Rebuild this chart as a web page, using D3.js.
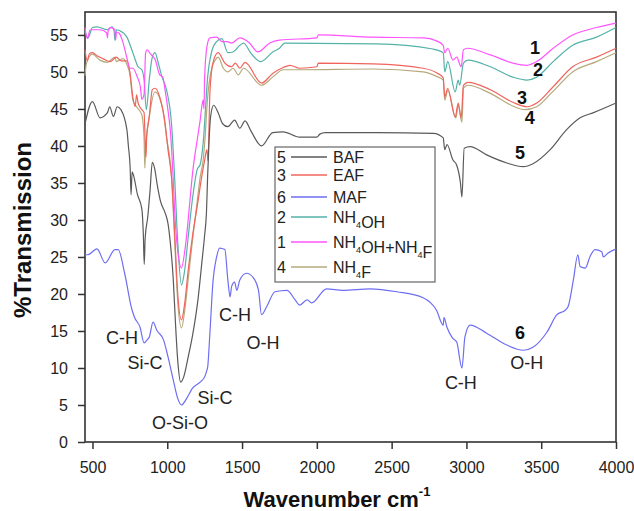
<!DOCTYPE html>
<html>
<head>
<meta charset="utf-8">
<script src="https://cdn.jsdelivr.net/npm/d3@7"></script>
<style>
  body { margin: 0; background: #fff; }
  svg { font-family: "Liberation Sans", Arial, sans-serif; }
</style>
</head>
<body>
<svg id="chart" width="634" height="511"></svg>
<script>
"use strict";

// spectra, [wavenumber, %T]
const baf = [[450,43],[500,46],[550,43.8],[600,44.5],[615,45.3],[640,44],[665,45.3],[690,44.9],[730,42.2],[740,40],[752,37],[758,33.4],[765,36.5],[775,36],[800,33.5],[830,31.5],[840,28],[846,24],[852,27.5],[870,30.5],[885,34],[900,37.8],[915,37],[935,34.5],[955,32.5],[985,31],[1005,29.5],[1020,27],[1040,22],[1055,16],[1070,11],[1090,8.1],[1110,8.8],[1140,11.5],[1170,14.5],[1205,19.2],[1230,24],[1250,28],[1262,31],[1270,36],[1280,41],[1290,44],[1310,45.5],[1340,44.5],[1370,43],[1405,42.6],[1450,43.5],[1485,42.4],[1520,43.4],[1560,42],[1630,40],[1705,41.8],[1775,41.9],[1885,41.2],[2000,41.2],[2020,41.6],[2055,41.8],[2400,41.8],[2780,41.7],[2845,41.1],[2855,39.5],[2870,40.2],[2910,38.1],[2935,37.4],[2960,35],[2970,33.1],[2985,39.7],[3025,39.9],[3135,38.8],[3270,37.7],[3380,37.2],[3445,37.6],[3560,39.5],[3670,42.2],[3760,43.8],[3850,44.5],[4000,45.8]];

const eaf = [[450,53],[465,51.5],[480,52.5],[500,52.6],[530,52.2],[570,51.8],[620,51.4],[660,52],[690,51.5],[730,51.5],[750,50],[770,46.6],[785,45.3],[795,46.9],[805,45.8],[830,44.9],[845,44.5],[852,40.8],[858,38.5],[862,41],[880,44],[900,47.6],[918,47.8],[950,46.6],[985,43.1],[1005,39.5],[1030,35.4],[1050,28],[1070,20],[1095,16.5],[1115,18.5],[1140,23.2],[1170,28],[1200,31.8],[1230,35.8],[1250,38.1],[1265,39.5],[1272,38],[1285,47.2],[1305,51.2],[1340,52.6],[1385,51.2],[1430,50.7],[1455,51.2],[1485,50.5],[1520,51.3],[1630,48.5],[1705,49.8],[1775,50.6],[1820,50.9],[1885,50.5],[2000,50.7],[2010,51.2],[2375,51.1],[2710,50.5],[2800,49.9],[2845,49.2],[2855,46.6],[2875,47.8],[2925,43.9],[2945,45.8],[2965,43.8],[2980,48.2],[3010,48.6],[3160,47.6],[3310,45.9],[3405,45.3],[3470,45.8],[3580,48],[3710,50.7],[3870,52],[4000,53.2]];

const maf = [[450,25.3],[470,25.3],[530,26.1],[585,24.2],[650,26],[672,26],[715,22.8],[765,17.8],[770,17.5],[780,16.9],[818,15.5],[845,13.4],[865,13.8],[880,14.2],[905,16.2],[930,15.1],[975,13.8],[1005,11.5],[1040,8.4],[1070,5.9],[1095,5],[1130,5.9],[1170,7.3],[1220,8.1],[1250,8.8],[1265,9.7],[1270,10.1],[1285,14.7],[1305,21.5],[1330,25],[1350,26.2],[1385,26],[1405,21.9],[1420,19.6],[1430,21],[1450,21.6],[1465,20.5],[1485,21.9],[1530,22.8],[1575,22.2],[1610,20.5],[1630,17.2],[1665,18.3],[1720,20.3],[1800,20.5],[1855,19.2],[1885,18.5],[1935,19.2],[1965,18.8],[2065,20.7],[2175,20.5],[2355,20.7],[2535,20.3],[2710,19.5],[2800,17.8],[2845,15.8],[2850,16.8],[2870,15.5],[2905,14.1],[2935,13.5],[2970,10],[2990,14.2],[3025,15.8],[3135,14.7],[3270,13.1],[3380,12.4],[3445,12.8],[3540,14.9],[3605,17.2],[3660,17.8],[3680,18.3],[3715,21.9],[3745,25.3],[3760,23.7],[3795,23.5],[3825,25],[3860,26],[3905,25.7],[3915,25],[3945,25.5],[4000,26.1]];

const nh4oh = [[450,55.5],[470,54.6],[500,56],[530,56.1],[600,55.7],[630,56.1],[645,55.5],[650,54.3],[660,55.7],[680,55.6],[730,54.7],[770,52.6],[805,50.7],[830,50.3],[845,48.9],[860,44.9],[880,49],[900,52],[918,52.6],[940,51.2],[965,49.3],[995,47.6],[1030,42.6],[1050,35.4],[1070,27],[1095,21.2],[1115,23],[1140,27.7],[1170,33.1],[1200,36.8],[1220,37.5],[1240,40.4],[1270,49.3],[1300,53],[1330,54.1],[1365,54.5],[1405,52.6],[1440,52.7],[1485,53.6],[1510,53.9],[1560,52.5],[1625,51.4],[1705,52.7],[1750,53.2],[1785,53.9],[2400,53.8],[2775,53.1],[2845,52.6],[2855,50],[2875,51.4],[2925,47.3],[2945,48.9],[2955,48.2],[2980,51.2],[3010,51.6],[3160,50.7],[3310,49.3],[3405,48.9],[3470,49.3],[3580,51.4],[3710,53.6],[3870,54.7],[4000,56]];

const nh4ohF = [[450,56],[465,54.5],[485,55.7],[550,55.7],[595,55.3],[600,54.6],[605,55.6],[620,56],[650,55.7],[655,54.3],[660,55.4],[680,55.2],[705,53.9],[730,51.9],[750,50.5],[770,50.5],[800,49.3],[820,48],[830,46.3],[845,47],[855,52.5],[865,53],[885,52.5],[920,51.6],[950,49.6],[970,49.3],[985,47.6],[1010,44],[1020,42.2],[1040,35.4],[1050,31],[1075,25],[1095,23.5],[1115,25.5],[1135,29],[1150,32.3],[1170,36.5],[1200,40.8],[1220,43.5],[1232,45.5],[1240,46.2],[1245,45],[1250,49.3],[1265,53.4],[1285,54.6],[1330,54.7],[1365,54.1],[1400,54.1],[1430,53.9],[1485,54.6],[1550,53.9],[1605,52.7],[1685,53.9],[1750,54.3],[2000,54.6],[2010,55],[2375,54.7],[2710,54.6],[2800,54.2],[2845,53.6],[2855,52.6],[2875,53.2],[2910,51.6],[2935,52],[2965,50.7],[2980,53],[3005,53.2],[3160,52.3],[3310,51.2],[3405,50.9],[3470,51.4],[3580,53.2],[3710,55],[3870,56],[4000,56.6]];

const nh4f = [[450,49.5],[460,51.2],[500,52.4],[550,51.6],[600,51.3],[650,52],[660,51.4],[705,51.8],[730,51],[750,49.7],[770,46.2],[795,45.3],[830,44.2],[845,41],[850,37],[856,40],[880,44],[918,47.3],[970,44.9],[995,41.2],[1030,35.4],[1050,27],[1070,19],[1095,15.4],[1115,17.5],[1140,22],[1170,27.5],[1200,32.5],[1220,35.8],[1240,38.1],[1250,40.4],[1270,46.6],[1300,50.7],[1320,51.6],[1340,52],[1375,50.5],[1405,50],[1440,50.5],[1475,49.6],[1510,50.5],[1630,48.2],[1705,49.3],[1775,50.3],[1885,50.3],[2375,50.4],[2710,50],[2800,49.4],[2845,48.9],[2855,46.2],[2875,47.5],[2930,43.8],[2945,45.5],[2970,43.2],[2980,47.8],[3010,48.2],[3160,47.1],[3310,45.4],[3390,44.9],[3470,45.3],[3580,47.4],[3710,50],[3870,51.4],[4000,52.6]];

const xTicks = [500, 1000, 1500, 2000, 2500, 3000, 3500, 4000];
const yTicks = [0, 5, 10, 15, 20, 25, 30, 35, 40, 45, 50, 55];

// legend order as in the figure: [number, name, data, colour]
const series = [
  ['5', 'BAF', baf, '#5a5a5a'],
  ['3', 'EAF', eaf, '#f0645c'],
  ['6', 'MAF', maf, '#6e6ef2'],
  ['2', 'NH4OH', nh4oh, '#55b2a8'],
  ['1', 'NH4OH+NH4F', nh4ohF, '#ff55ff'],
  ['4', 'NH4F', nh4f, '#b6aa7c']
];
// drawing order (so the blue and grey sit over the others like in the picture)
const drawOrder = ['4', '3', '2', '1', '5', '6'];

// [text, wavenumber, %T] at the text baseline
const peakLabels = [
  ['C-H', 697, 13.3], ['Si-C', 851, 9.8], ['O-Si-O', 1085, 1.8], ['Si-C', 1319, 5.2],
  ['C-H', 1453, 16.3], ['O-H', 1640, 12.5], ['C-H', 2963, 7.2], ['O-H', 3404, 9.8]
];
const curveNumbers = [['1', 3458, 52.4], ['2', 3478, 49.4], ['3', 3371, 45.7], ['4', 3424, 42.9], ['5', 3358, 38.2], ['6', 3358, 13.85]];

const margin = {left: 85, right: 18, top: 12, bottom: 69};
const width = 634, height = 511;
const svg = d3.select('#chart');

const x = d3.scaleLinear().domain([450, 4000]).range([margin.left, width - margin.right]);
const y = d3.scaleLinear().domain([0, 58.1]).range([height - margin.bottom, margin.top]);

const line = d3.line()
  .x(d => x(d[0]))
  .y(d => y(d[1]))
  .curve(d3.curveMonotoneX);

// axes
const xAxis = svg.append('g')
  .attr('transform', 'translate(0,' + (height - margin.bottom) + ')')
  .call(d3.axisBottom(x).tickValues(xTicks).tickFormat(d3.format('d')).tickSize(7).tickPadding(13));
const yAxis = svg.append('g')
  .attr('transform', 'translate(' + margin.left + ',0)')
  .call(d3.axisLeft(y).tickValues(yTicks).tickSize(7).tickPadding(10));

[xAxis, yAxis].forEach(function (g) {
  g.select('.domain').remove();
  g.selectAll('line').attr('stroke', '#333').attr('stroke-width', 1.5);
  g.selectAll('text').attr('fill', '#222').style('font-size', '16px')
    .style('font-family', '"Liberation Sans", Arial, sans-serif');
});

// plot frame
svg.append('rect')
  .attr('x', x(450)).attr('y', y(58.1))
  .attr('width', x(4000) - x(450)).attr('height', y(0) - y(58.1))
  .attr('fill', 'none').attr('stroke', '#333').attr('stroke-width', 1.6);

const byNum = {};
series.forEach(s => { byNum[s[0]] = s; });

svg.append('g').selectAll('path')
  .data(drawOrder.map(n => byNum[n]))
  .enter()
  .append('path')
  .attr('d', d => line(d[2]))
  .attr('fill', 'none')
  .attr('stroke', d => d[3])
  .attr('stroke-width', 1.2);

// peak annotations
svg.append('g').selectAll('text')
  .data(peakLabels)
  .enter()
  .append('text')
  .attr('x', d => x(d[1]))
  .attr('y', d => y(d[2]))
  .attr('text-anchor', 'middle')
  .style('font-size', '18px')
  .attr('fill', '#222')
  .text(d => d[0]);

svg.append('g').selectAll('text')
  .data(curveNumbers)
  .enter()
  .append('text')
  .attr('x', d => x(d[1]))
  .attr('y', d => y(d[2]))
  .attr('text-anchor', 'middle')
  .style('font-size', '18px')
  .style('font-weight', 'bold')
  .attr('fill', '#111')
  .text(d => d[0]);

// legend
const legend = svg.append('g');
legend.append('rect')
  .attr('x', 275).attr('y', 147).attr('width', 160).attr('height', 135)
  .attr('fill', '#fff').attr('stroke', '#666').attr('stroke-width', 1.2);

const rowY = [157, 175, 197, 217, 242, 267];
series.forEach(function (s, i) {
  const cy = rowY[i];
  legend.append('text').attr('x', 277).attr('y', cy + 6)
    .style('font-size', '16px').attr('fill', '#222').text(s[0]);
  legend.append('line').attr('x1', 291).attr('x2', 327).attr('y1', cy).attr('y2', cy)
    .attr('stroke', s[3]).attr('stroke-width', 1.3);
  const t = legend.append('text').attr('x', 333).attr('y', cy + 6)
    .style('font-size', '16px').attr('fill', '#222');
  // NH4 -> subscript 4
  s[1].split(/(4)/).forEach(function (part) {
    if (part === '') return;
    if (part === '4') {
      t.append('tspan').attr('dy', 5).style('font-size', '9px').text('4');
      t.append('tspan').attr('dy', -5).text('');
    } else {
      t.append('tspan').text(part);
    }
  });
});

// axis titles
svg.append('text')
  .attr('transform', 'translate(31,' + 230 + ') rotate(-90)')
  .attr('text-anchor', 'middle')
  .style('font-size', '24px').style('font-weight', 'bold').attr('fill', '#111')
  .text('%Transmission');

const xt = svg.append('text')
  .attr('x', 337).attr('y', 507)
  .attr('text-anchor', 'middle')
  .style('font-size', '22px').style('font-weight', 'bold').attr('fill', '#111');
xt.append('tspan').text('Wavenumber cm');
xt.append('tspan').attr('dy', -11).style('font-size', '13px').text('-1');
</script>
</body>
</html>
